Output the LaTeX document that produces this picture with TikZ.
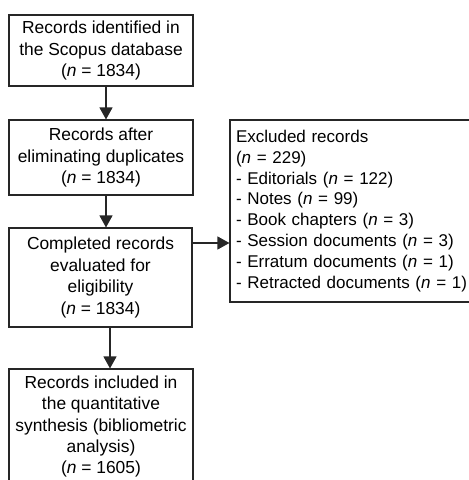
\documentclass[tikz,border=0pt]{standalone}
\usepackage{fontspec}
\setmainfont{Liberation Sans}
\usetikzlibrary{arrows.meta}
\begin{document}
\begin{tikzpicture}[x=1pt,y=-1pt,
  box/.style={draw=black!85, line width=1.1pt, align=center, inner sep=0pt,
    font=\fontsize{17.4}{21.4}\selectfont},
  arr/.style={draw=black!85, line width=1.1pt, -{Triangle[length=12pt,width=13pt]}}]
\useasboundingbox (0,0) rectangle (469,480);
\node[box, minimum width=184pt, minimum height=71pt] (b1) at (101,50.5)
  {Records identified in\\the Scopus database\\(\textit{n} = 1834)};
\node[box, minimum width=184pt, minimum height=75pt] (b2) at (101,157.5)
  {Records after\\eliminating duplicates\\(\textit{n} = 1834)};
\node[box, minimum width=183pt, minimum height=99pt] (b3) at (100.5,277.5)
  {Completed records\\evaluated for\\eligibility\\(\textit{n} = 1834)};
\node[box, minimum width=184pt, minimum height=115pt] (b4) at (101,426.5)
  {Records included in\\the quantitative\\synthesis (bibliometric\\analysis)\\(\textit{n} = 1605)};
\node[box, align=left, text width=250pt, inner xsep=6pt, minimum height=182pt,
  font=\fontsize{17}{20.9}\selectfont] (b5) at (361,211)
  {Excluded records\\(\textit{n} = 229)\\- Editorials (\textit{n} = 122)\\- Notes (\textit{n} = 99)\\- Book chapters (\textit{n} = 3)\\- Session documents (\textit{n} = 3)\\- Erratum documents (\textit{n} = 1)\\- Retracted documents (\textit{n} = 1)};
\coordinate (a1) at (106,0);
\coordinate (a3) at (110,0);
\coordinate (h) at (0,243);
\draw[arr] (b1.south -| a1) -- (b2.north -| a1);
\draw[arr] (b2.south -| a1) -- (b3.north -| a1);
\draw[arr] (b3.south -| a3) -- (b4.north -| a3);
\draw[arr] (b3.east |- h) -- (b5.west |- h);
\end{tikzpicture}
\end{document}
